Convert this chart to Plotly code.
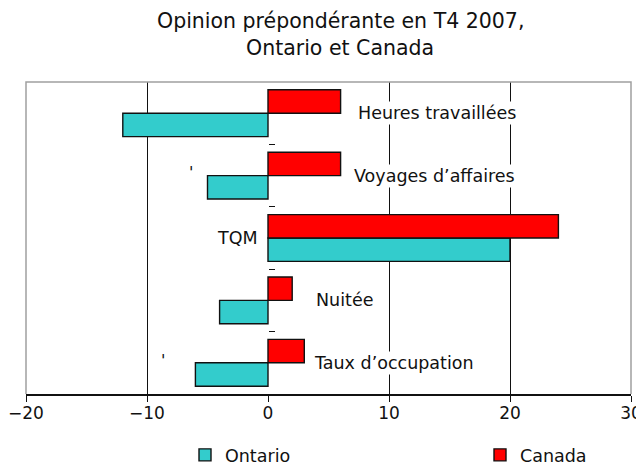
import plotly.graph_objects as go

# Data (categories listed top-to-bottom as in the chart)
categories = ["Heures travaillées", "Voyages d’affaires", "TQM", "Nuitée", "Taux d’occupation"]
ontario = [-12, -5, 20, -4, -6]
canada = [6, 6, 24, 2, 3]
x_ticks = [-20, -10, 0, 10, 20, 30]

title_lines = ["Opinion prépondérante en T4 2007,", "Ontario et Canada"]

FONT = "DejaVu Sans"
INK = "#111111"
cats_bottom_up = categories[::-1]

# The page body adds an 8px offset, so the figure is drawn 8px smaller
FIG_W, FIG_H = 636, 457
M_L, M_R, M_T, M_B = 18, 13, 74, 71
PLOT_W = FIG_W - M_L - M_R

fig = go.Figure()
fig.add_trace(go.Bar(
    name="Ontario", y=cats_bottom_up, x=ontario[::-1], orientation="h", legend="legend",
    marker=dict(color="#33CCCC", line=dict(color=INK, width=1.4)),
))
fig.add_trace(go.Bar(
    name="Canada", y=cats_bottom_up, x=canada[::-1], orientation="h", legend="legend2",
    marker=dict(color="#FF0000", line=dict(color=INK, width=1.4)),
))

# Category labels placed next to the bars (layout positions)
label_specs = [
    (categories[0], 14.0, "center"),
    (categories[1], 13.8, "center"),
    (categories[2], -0.7, "right"),
    (categories[3], 6.3, "center"),
    (categories[4], 3.6, "left"),
]
annotations = []
for cat, xpos, anchor in label_specs:
    annotations.append(dict(
        x=xpos, y=cat, xref="x", yref="y", text=cat, showarrow=False,
        xanchor=anchor, yanchor="middle", bgcolor="white", borderpad=1,
        font=dict(family=FONT, size=17.5, color=INK),
    ))
# stray apostrophes seen in the original
annotations.append(dict(x=-6.4, y=categories[1], xref="x", yref="y", text="'", showarrow=False,
                        yshift=3, font=dict(family=FONT, size=16, color=INK)))
annotations.append(dict(x=-8.7, y=categories[4], xref="x", yref="y", text="'", showarrow=False,
                        yshift=2, font=dict(family=FONT, size=16, color=INK)))
# title lines
title_x = (332 - M_L) / PLOT_W
annotations.append(dict(x=title_x, y=1, xref="paper", yref="paper", yshift=61, text=title_lines[0],
                        showarrow=False, xanchor="center", yanchor="middle",
                        font=dict(family=FONT, size=20.5, color=INK)))
annotations.append(dict(x=title_x, y=1, xref="paper", yref="paper", yshift=34, text=title_lines[1],
                        showarrow=False, xanchor="center", yanchor="middle",
                        font=dict(family=FONT, size=20.5, color=INK)))

legend_common = dict(orientation="h", yanchor="middle", y=-0.1955, xanchor="left",
                     font=dict(family=FONT, size=17.5, color=INK), bgcolor="rgba(0,0,0,0)")

fig.update_layout(
    width=FIG_W, height=FIG_H,
    margin=dict(l=M_L, r=M_R, t=M_T, b=M_B, autoexpand=False),
    paper_bgcolor="white", plot_bgcolor="white",
    barmode="group", bargap=0.25, bargroupgap=0,
    showlegend=True,
    legend=dict(x=(177 - M_L) / PLOT_W, **legend_common),
    legend2=dict(x=(472 - M_L) / PLOT_W, **legend_common),
    font=dict(family=FONT, size=17, color=INK),
    annotations=annotations,
    shapes=[dict(type="path", xref="paper", yref="paper", layer="above",
                 path="M0,0 L0,1 L1,1 L1,0", line=dict(color="#A0A0A0", width=1.5))],
    xaxis=dict(range=[-20, 30], tickvals=x_ticks, showgrid=True, gridcolor=INK, gridwidth=1,
               zeroline=True, zerolinecolor="white", zerolinewidth=1, automargin=False,
               showline=True, linecolor=INK, linewidth=1.5,
               ticks="outside", ticklen=6, tickcolor=INK, ticklabelstandoff=-3,
               tickfont=dict(family=FONT, size=17, color=INK)),
    yaxis=dict(categoryorder="array", categoryarray=cats_bottom_up, anchor="free", position=0.4,
               showticklabels=False, showgrid=False, zeroline=False, showline=False, automargin=False,
               ticks="inside", tickson="boundaries", ticklen=6, tickcolor=INK),
)

fig.write_html("out.html")
